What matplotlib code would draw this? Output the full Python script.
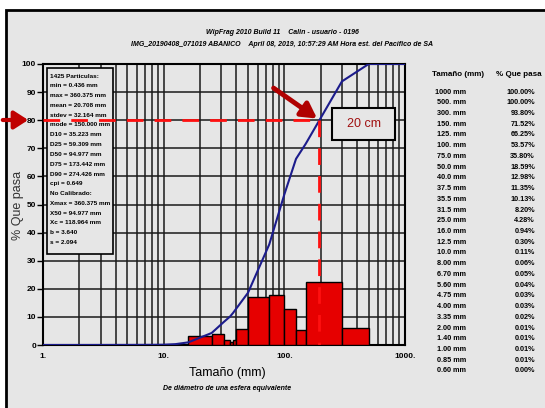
import numpy as np
import matplotlib
matplotlib.use("Agg")
import matplotlib.pyplot as plt
from matplotlib.patches import Rectangle, FancyArrowPatch

# tabla granulometrica (tamano mm, % que pasa)
sizes = [1000, 500, 300, 150, 125, 100, 75, 50, 40, 37.5, 35.5, 31.5, 25,
         16, 12.5, 10, 8, 6.7, 5.6, 4.75, 4, 3.35, 2, 1.4, 1, 0.85, 0.6]
passing = [100.00, 100.00, 93.80, 71.52, 66.25, 53.57, 35.80, 18.59, 12.98,
           11.35, 10.13, 8.20, 4.28, 0.94, 0.30, 0.11, 0.06, 0.05, 0.04,
           0.03, 0.03, 0.02, 0.01, 0.01, 0.01, 0.01, 0.00]

stats_lines = ["1425 Particulas:", "min = 0.436 mm", "max = 360.375 mm",
               "mean = 20.708 mm", "stdev = 32.164 mm", "mode = 150.000 mm",
               "D10 = 35.223 mm", "D25 = 59.309 mm", "D50 = 94.977 mm",
               "D75 = 173.442 mm", "D90 = 274.426 mm", "cpi = 0.649",
               "No Calibrado:", "Xmax = 360.375 mm", "X50 = 94.977 mm",
               "Xc = 118.964 mm", "b = 3.640", "s = 2.094"]

title1 = "WipFrag 2010 Build 11    Calin - usuario - 0196"
title2 = "IMG_20190408_071019 ABANICO    April 08, 2019, 10:57:29 AM Hora est. del Pacífico de SA"

W, H = 545, 408
NARROW = ["Liberation Sans Narrow", "Liberation Sans", "DejaVu Sans"]
BG = "#e6e6e6"

fig = plt.figure(figsize=(W / 100, H / 100), dpi=100, facecolor="white")


def fx(px):
    return px / W


def fy(py):
    return 1 - py / H


# marco exterior gris
fig.patches.append(Rectangle((fx(6), -0.1), 1, fy(10) + 0.1, transform=fig.transFigure,
                             facecolor=BG, edgecolor="black", lw=2, zorder=-5))

ax = fig.add_axes([fx(43), fy(345), fx(405) - fx(43), fy(64) - fy(345)])
ax.set_zorder(2)
ax.set_facecolor(BG)
ax.set_xscale("log")
ax.set_xlim(1, 1000)
ax.set_ylim(0, 100)

# rejilla
for dec in [1, 10, 100]:
    for k in range(1, 10):
        ax.axvline(dec * k, color="#1a1a1a", lw=1.1, zorder=1)
for yv in range(10, 100, 10):
    ax.axhline(yv, color="#1a1a1a", lw=1.1, zorder=1)

# histograma = diferencias de la curva acumulada
s = np.array(sizes[::-1], dtype=float)
p = np.array(passing[::-1], dtype=float)
for i in range(len(s) - 1):
    h = p[i + 1] - p[i]
    if h >= 1.0:
        ax.bar(s[i], h, width=s[i + 1] - s[i], align="edge",
               color="#e60000", edgecolor="black", lw=1.0, zorder=3)

ax.plot(s, p, color="#1c1c8c", lw=1.5, zorder=4)

# D80
d80 = 10 ** np.interp(80, p[p < 100], np.log10(s[p < 100]))
ax.plot([1, d80], [80, 80], color="#ff1010", lw=2, dashes=(6, 4), zorder=6)
ax.plot([d80, d80], [80, 0], color="#ff1010", lw=2, dashes=(6, 4), zorder=6)
ax.annotate("", xy=(d80, 80), xytext=(78, 92),
            arrowprops=dict(arrowstyle="-|>,head_width=0.5,head_length=0.9",
                            color="#b00000", lw=3.5), zorder=7)

# recuadro de estadisticas
ax.add_patch(Rectangle((0.011, 0.324), 0.182, 0.662, transform=ax.transAxes,
                       facecolor=BG, edgecolor="black", lw=1.2, zorder=5))
for i, line in enumerate(stats_lines):
    ax.text(fx(50), fy(76 + i * 9.8), line, fontsize=4.6, family=NARROW,
            fontweight="bold", va="center", ha="left", zorder=8,
            transform=fig.transFigure)

# caja "20 cm"
ax.add_patch(Rectangle((fx(332), fy(140)), fx(395) - fx(332), fy(108) - fy(140),
                       transform=fig.transFigure, facecolor=BG,
                       edgecolor="black", lw=1.5, zorder=9, clip_on=False))
ax.text(fx(364), fy(124), "20 cm", color="#a01010", fontsize=9,
        ha="center", va="center", family=["Liberation Sans", "DejaVu Sans"],
        zorder=10, transform=fig.transFigure)

for sp in ax.spines.values():
    sp.set_color("black")
    sp.set_linewidth(1.5)

ax.set_xticks([1, 10, 100, 1000])
ax.set_xticklabels(["1.", "10.", "100.", "1000."], family=NARROW,
                   fontsize=6, fontweight="bold")
ax.set_xticks([], minor=True)
ax.tick_params(axis="x", length=0, pad=6)
ax.set_yticks(range(0, 101, 10))
ax.set_yticklabels([str(v) for v in range(0, 101, 10)], family=NARROW,
                   fontsize=6, fontweight="bold")
ax.tick_params(axis="y", length=4, width=1, pad=1, direction="out")

# flecha izquierda
fig.patches.append(FancyArrowPatch(
    (fx(0), fy(120)), (fx(31), fy(120)), transform=fig.transFigure,
    arrowstyle="-|>,head_width=0.45,head_length=0.7", color="#c00000",
    lw=3, mutation_scale=12, zorder=10))

# titulos
fig.text(fx(282), fy(33), title1, fontsize=5, family=NARROW, style="italic",
         fontweight="bold", ha="center", va="center")
fig.text(fx(282), fy(45), title2, fontsize=5, family=NARROW, style="italic",
         fontweight="bold", ha="center", va="center")

fig.text(fx(18), fy(205), "% Que pasa", rotation=90, fontsize=9,
         ha="center", va="center", color="#333333",
         family=["Liberation Sans", "DejaVu Sans"])
fig.text(fx(227), fy(373), "Tamaño (mm)", fontsize=9, ha="center", va="center",
         family=NARROW)
fig.text(fx(227), fy(388), "De diámetro de una esfera equivalente", fontsize=5,
         ha="center", va="center", family=NARROW, style="italic", fontweight="bold")

# tabla a la derecha
fig.text(fx(458), fy(75), "Tamaño (mm)", fontsize=5.8, ha="center", va="center",
         family=NARROW, fontweight="bold")
fig.text(fx(519), fy(75), "% Que pasa", fontsize=5.8, ha="center", va="center",
         family=NARROW, fontweight="bold")


def fmt_size(v):
    if v >= 1000:
        return "%d mm" % v
    if v >= 100:
        return "%d. mm" % v
    if v >= 10:
        return "%.1f mm" % v
    return "%.2f mm" % v


for i, (sz, pc) in enumerate(zip(sizes, passing)):
    yy = fy(92 + i * 10.73)
    fig.text(fx(466), yy, fmt_size(sz), fontsize=5.2, ha="right", va="center",
             family=NARROW, fontweight="bold")
    fig.text(fx(535), yy, "%.2f%%" % pc, fontsize=5.2, ha="right", va="center",
             family=NARROW, fontweight="bold")

fig.savefig("out.png", dpi=100, facecolor="white")
